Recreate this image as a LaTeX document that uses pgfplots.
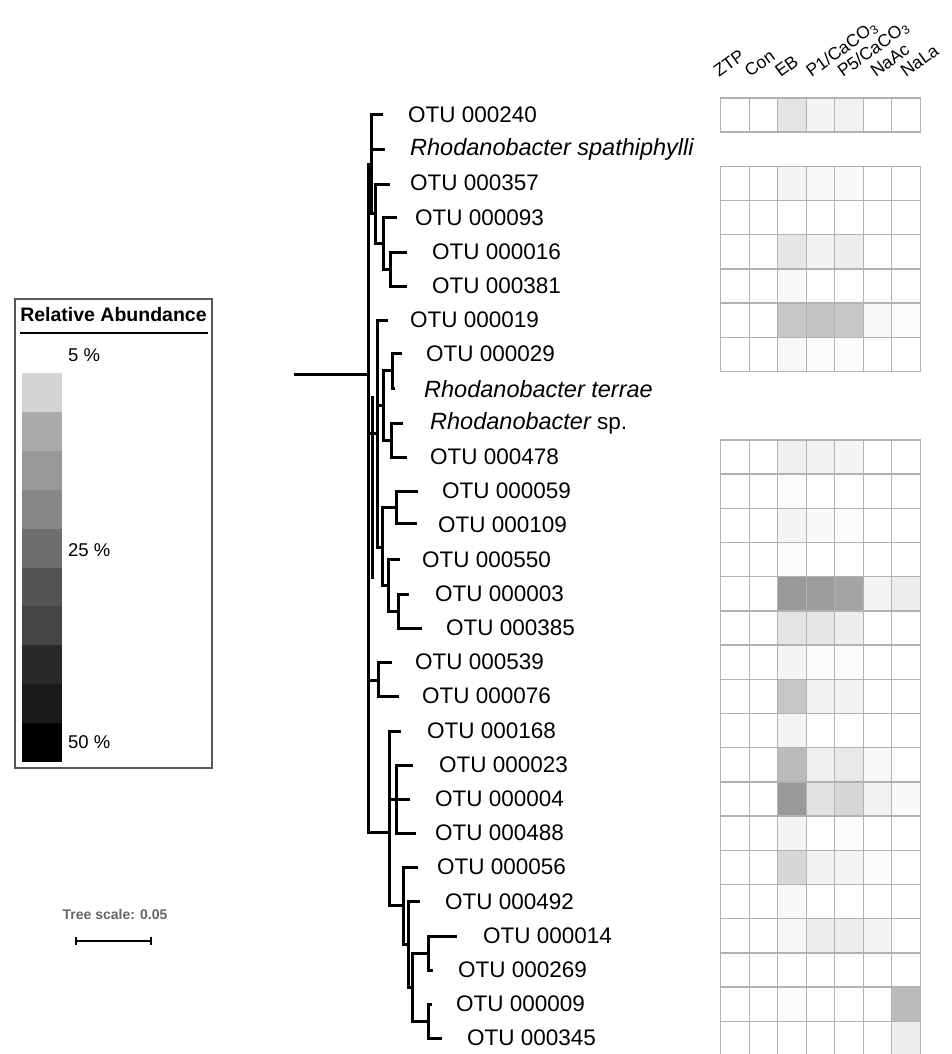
\documentclass[border=0pt]{standalone}
\usepackage{fontspec}
\setmainfont{Liberation Sans}
\usepackage{pgfplots}
\pgfplotsset{compat=1.18}
\usepackage{pgfplotstable}

% relative abundance (%) per OTU row (row = position from top)
\pgfplotstableread{
row ZTP Con EB P1 P5 NaAc NaLa
0 0 0 3.1 1.3 1.5 0 0
2 0 0 1.2 0.6 0.6 0.2 0
3 0 0 0.2 0.1 0.1 0.1 0
4 0 0 2.9 1.5 2.0 0.1 0
5 0 0 0.8 0.2 0.2 0.1 0
6 0 0 6.4 6.9 6.6 0.8 0.4
7 0 0 0.8 0.4 0.4 0.1 0
10 0 0 1.7 1.5 1.2 0 0
11 0 0 0.4 0.1 0.1 0 0
12 0 0 1.2 0.6 0.4 0 0
13 0 0 0.3 0.1 0.1 0 0
14 0 0 15.0 14.2 12.0 1.2 2.0
15 0 0 3.1 2.9 2.0 0.1 0.1
16 0 0 1.2 0.3 0.4 0 0
17 0 0 6.7 1.5 1.5 0.1 0
18 0 0 1.3 0.2 0.2 0 0
19 0 0 8.0 1.7 2.6 0.8 0
20 0 0 15.0 3.3 4.7 1.5 0.6
21 0 0 1.3 0.1 0.4 0 0
22 0 0 4.7 1.5 1.3 0.4 0
23 0 0 0.8 0.1 0.1 0 0
24 0 0 1.0 2.2 2.2 1.3 0
25 0 0 0.1 0 0 0 0
26 0 0 0.4 0.2 0.2 0 8.0
27 0 0 0.1 0 0 0 2.0
}\heat

\newcommand\lbl{\fontsize{22.5}{26}\selectfont}
\newcommand\ilbl{\fontsize{23.5}{27}\selectfont\itshape}
\newcommand\hdr{\fontsize{17.5}{21}\selectfont}
\newcommand\leg{\fontsize{18.5}{22}\selectfont}

\begin{document}
\begin{tikzpicture}
\path[use as bounding box] (0,0) rectangle (951pt,1054pt);
\clip (0,0) rectangle (951pt,1054pt);
\begin{axis}[at={(0,0)}, anchor=south west,
  width=951pt, height=1054pt, scale only axis,
  xmin=0, xmax=951, ymin=0, ymax=1054, y dir=reverse,
  hide axis, clip=false,
  colormap={abund}{gray(0cm)=(1); gray(5cm)=(0.83); gray(10cm)=(0.67); gray(15cm)=(0.6); gray(20cm)=(0.53); gray(25cm)=(0.43); gray(30cm)=(0.33); gray(35cm)=(0.27); gray(40cm)=(0.16); gray(45cm)=(0.1); gray(50cm)=(0)},
  point meta min=0, point meta max=50,
  unbounded coords=jump,
  tree/.style={black, line width=3pt, line cap=rect, line join=miter, no marks},
  cell/.style={scatter, only marks, mark=square*, mark size=14.25pt, line width=1.4pt,
    scatter/use mapped color={draw=black!30, fill=mapped color},
    every mark/.append style={yscale=1.2}, point meta=explicit},
]
% ---------- heatmap ----------
\addplot[cell] table[x expr=735.0, y expr=115+34.2*\thisrow{row}, meta=ZTP] {\heat};
\addplot[cell] table[x expr=763.5, y expr=115+34.2*\thisrow{row}, meta=Con] {\heat};
\addplot[cell] table[x expr=792.0, y expr=115+34.2*\thisrow{row}, meta=EB] {\heat};
\addplot[cell] table[x expr=820.5, y expr=115+34.2*\thisrow{row}, meta=P1] {\heat};
\addplot[cell] table[x expr=849.0, y expr=115+34.2*\thisrow{row}, meta=P5] {\heat};
\addplot[cell] table[x expr=877.5, y expr=115+34.2*\thisrow{row}, meta=NaAc] {\heat};
\addplot[cell] table[x expr=906.0, y expr=115+34.2*\thisrow{row}, meta=NaLa] {\heat};

% ---------- tree ----------
\addplot[tree] coordinates {
(295,374) (368,374) (nan,nan)
(368,164) (368,832) (389,832) (nan,nan)
(368,164) (371,164) (nan,nan)
(381,115) (371,115) (371,213) (375.7,213) (nan,nan)
(371,149) (383,149) (nan,nan)
(388,184) (375.7,184) (375.7,243) (383,243) (nan,nan)
(395,217) (383,217) (383,269) (390,269) (nan,nan)
(405,252) (390,252) (390,286) (405,286) (nan,nan)
(368,433) (377.7,433) (nan,nan)
(386.7,320) (377.7,320) (377.7,547) (382,547) (nan,nan)
(377.7,405) (383,405) (nan,nan)
(383,370) (383,440) (nan,nan)
(383,370) (392,370) (nan,nan)
(400,353) (392,353) (392,388) (393,388) (nan,nan)
(383,440) (391.7,440) (nan,nan)
(401.7,423) (391.7,423) (391.7,457) (405,457) (nan,nan)
(382,507) (382,585) (nan,nan)
(382,507) (396.7,507) (nan,nan)
(416.7,491) (396.7,491) (396.7,523) (415,523) (nan,nan)
(382,585) (388,585) (nan,nan)
(398,559) (388,559) (388,611) (398,611) (nan,nan)
(407,594) (398,594) (398,628) (420,628) (nan,nan)
(372,397) (372,577) (nan,nan)
(390,662) (378,662) (378,696) (397,696) (nan,nan)
(368,680) (378,680) (nan,nan)
(399,731) (389,731) (389,905) (403,905) (nan,nan)
(389,799) (396.7,799) (nan,nan)
(411.7,765) (396.7,765) (396.7,833) (414,833) (nan,nan)
(396.7,799) (408,799) (nan,nan)
(416,867) (403,867) (403,944) (408,944) (nan,nan)
(418,901) (408,901) (408,987) (412,987) (nan,nan)
(412,953) (412,1021) (428,1021) (nan,nan)
(412,953) (428,953) (nan,nan)
(455,936) (428,936) (428,970) (431,970) (nan,nan)
(430,1004) (428,1004) (428,1038) (440,1038)
};

% ---------- leaf labels ----------
\begin{scope}[every node/.style={anchor=west, font=\lbl, inner sep=0pt}]
\node at (axis cs:408,115) {OTU 000240};
\node[font=\ilbl] at (axis cs:410,149) {Rhodanobacter spathiphylli};
\node at (axis cs:410,183) {OTU 000357};
\node at (axis cs:415,218) {OTU 000093};
\node at (axis cs:432,252) {OTU 000016};
\node at (axis cs:432,286) {OTU 000381};
\node at (axis cs:410,320) {OTU 000019};
\node at (axis cs:426,354) {OTU 000029};
\node[font=\ilbl] at (axis cs:424,389) {Rhodanobacter terrae};
\node at (axis cs:430,423) {{\ilbl Rhodanobacter} sp.};
\node at (axis cs:430,457) {OTU 000478};
\node at (axis cs:442,491) {OTU 000059};
\node at (axis cs:438,525) {OTU 000109};
\node at (axis cs:422,560) {OTU 000550};
\node at (axis cs:435,594) {OTU 000003};
\node at (axis cs:446,628) {OTU 000385};
\node at (axis cs:415,662) {OTU 000539};
\node at (axis cs:422,696) {OTU 000076};
\node at (axis cs:427,731) {OTU 000168};
\node at (axis cs:439,765) {OTU 000023};
\node at (axis cs:435,799) {OTU 000004};
\node at (axis cs:435,833) {OTU 000488};
\node at (axis cs:437,867) {OTU 000056};
\node at (axis cs:445,902) {OTU 000492};
\node at (axis cs:483,936) {OTU 000014};
\node at (axis cs:458,970) {OTU 000269};
\node at (axis cs:456,1004) {OTU 000009};
\node at (axis cs:467,1038) {OTU 000345};
\end{scope}

% ---------- column headers ----------
\begin{scope}[every node/.style={anchor=base west, rotate=36, font=\hdr, inner sep=0pt}]
\node at (axis cs:719.0,78) {ZTP};
\node at (axis cs:750.0,78) {Con};
\node at (axis cs:780.5,78) {EB};
\node at (axis cs:811.5,78) {P1/CaCO\textsubscript{3}};
\node at (axis cs:843.0,78) {P5/CaCO\textsubscript{3}};
\node at (axis cs:876.0,78) {NaAc};
\node at (axis cs:906.0,78) {NaLa};
\end{scope}

% ---------- legend ----------
\draw[black!65, line width=1.5pt] (axis cs:15,299) rectangle (axis cs:212,768);
\node[font=\fontsize{19.5}{23}\selectfont\bfseries, inner sep=0pt] at (axis cs:113.5,315) {Relative Abundance};
\draw[black, line width=2pt] (axis cs:20,333) -- (axis cs:208,333);
\fill[black!17] (axis cs:22,373.0) rectangle (axis cs:62,411.9);
\fill[black!33] (axis cs:22,411.9) rectangle (axis cs:62,450.8);
\fill[black!40] (axis cs:22,450.8) rectangle (axis cs:62,489.7);
\fill[black!47] (axis cs:22,489.7) rectangle (axis cs:62,528.6);
\fill[black!57] (axis cs:22,528.6) rectangle (axis cs:62,567.5);
\fill[black!67] (axis cs:22,567.5) rectangle (axis cs:62,606.4);
\fill[black!73] (axis cs:22,606.4) rectangle (axis cs:62,645.3);
\fill[black!84] (axis cs:22,645.3) rectangle (axis cs:62,684.2);
\fill[black!90] (axis cs:22,684.2) rectangle (axis cs:62,723.1);
\fill[black] (axis cs:22,723.1) rectangle (axis cs:62,762.0);
\begin{scope}[every node/.style={anchor=west, font=\leg, inner sep=0pt}]
\node at (axis cs:68,355) {5 \%};
\node at (axis cs:68,550) {25 \%};
\node at (axis cs:68,742) {50 \%};
\end{scope}

% ---------- tree scale ----------
\node[font=\fontsize{14}{17}\selectfont\bfseries, text=black!60, inner sep=0pt] at (axis cs:115,914) {Tree scale: 0.05};
\draw[black, line width=1.6pt] (axis cs:76,941) -- (axis cs:151,941);
\draw[black, line width=1.6pt] (axis cs:76,937) -- (axis cs:76,945);
\draw[black, line width=1.6pt] (axis cs:151,937) -- (axis cs:151,945);
\end{axis}
\end{tikzpicture}
\end{document}
